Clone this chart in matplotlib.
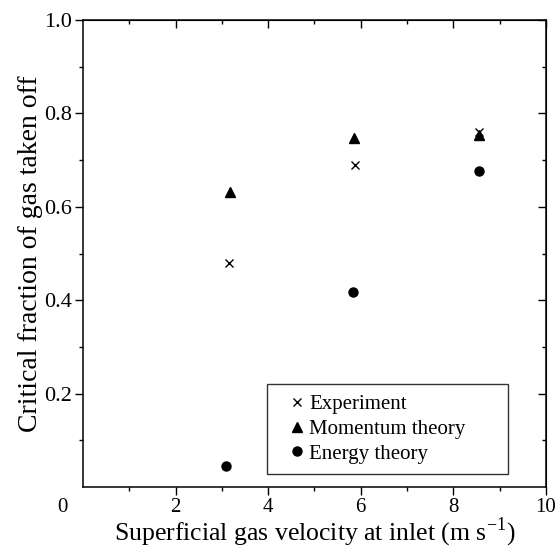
import numpy as np
import matplotlib.pyplot as plt

plt.rcParams['font.family'] = ['Liberation Serif', 'DejaVu Serif']
plt.rcParams['mathtext.fontset'] = 'custom'
plt.rcParams['mathtext.rm'] = 'Liberation Serif'

exp_x = [3.15, 5.87, 8.56]
exp_y = [0.48, 0.69, 0.76]
mom_x = [3.17, 5.86, 8.56]
mom_y = [0.632, 0.748, 0.753]
ene_x = [3.09, 5.84, 8.56]
ene_y = [0.046, 0.417, 0.676]

x_ticks = [2, 4, 6, 8, 10]
y_ticks = [0.2, 0.4, 0.6, 0.8, 1.0]

fig = plt.figure(figsize=(5.57, 5.48), dpi=100)
ax = fig.add_axes([0.149, 0.111, 0.831, 0.8525])

ax.plot(exp_x, exp_y, 'x', color='black', ms=6, mew=1.0, label='Experiment')
ax.plot(mom_x, mom_y, '^', color='black', ms=7, label='Momentum theory')
ax.plot(ene_x, ene_y, 'o', color='black', ms=6.5, label='Energy theory')

ax.set_xlim(0, 10)
ax.set_ylim(0, 1.0)
ax.set_xticks(x_ticks)
ax.set_yticks(y_ticks)
ax.set_xticklabels([str(t) for t in x_ticks])
ax.set_yticklabels(['%.1f' % t for t in y_ticks])
ax.set_xticks(np.arange(1, 10, 2), minor=True)
ax.set_yticks(np.arange(0.1, 1.0, 0.2), minor=True)

ax.tick_params(which='major', direction='out', length=6, width=1.0, labelsize=16, pad=2)
ax.tick_params(which='minor', direction='out', length=3, width=1.0)
ax.tick_params(axis='x', labelsize=15, pad=2)

# znaczniki na górnej i prawej krawędzi (do środka)
top = ax.secondary_xaxis('top')
top.set_xticks(x_ticks)
top.set_xticks(np.arange(1, 10, 2), minor=True)
top.tick_params(which='major', direction='in', length=6, width=1.0, labeltop=False)
top.tick_params(which='minor', direction='in', length=3, width=1.0)
right = ax.secondary_yaxis('right')
right.set_yticks(y_ticks)
right.set_yticks(np.arange(0.1, 1.0, 0.2), minor=True)
right.tick_params(which='major', direction='in', length=6, width=1.0, labelright=False)
right.tick_params(which='minor', direction='in', length=3, width=1.0)

for s in ax.spines.values():
    s.set_linewidth(1.1)

ax.annotate('0', xy=(0, 0), xycoords='data', xytext=(-15, -8),
            textcoords='offset points', ha='center', va='top', fontsize=15)

ax.set_xlabel('Superficial gas velocity at inlet (m s$^{-1}$)', fontsize=18.5, labelpad=-1)
ax.set_ylabel('Critical fraction of gas taken off', fontsize=20, labelpad=1)

leg = ax.legend(loc='lower left', bbox_to_anchor=(0.397, 0.028, 0.521, 0.203),
                mode='expand', fontsize=15, frameon=True, fancybox=False,
                edgecolor='black', handletextpad=-0.35, handlelength=1.9,
                borderpad=0.5, labelspacing=0.25, borderaxespad=0)
leg.get_frame().set_linewidth(1.0)

plt.savefig('out.png', dpi=100)
